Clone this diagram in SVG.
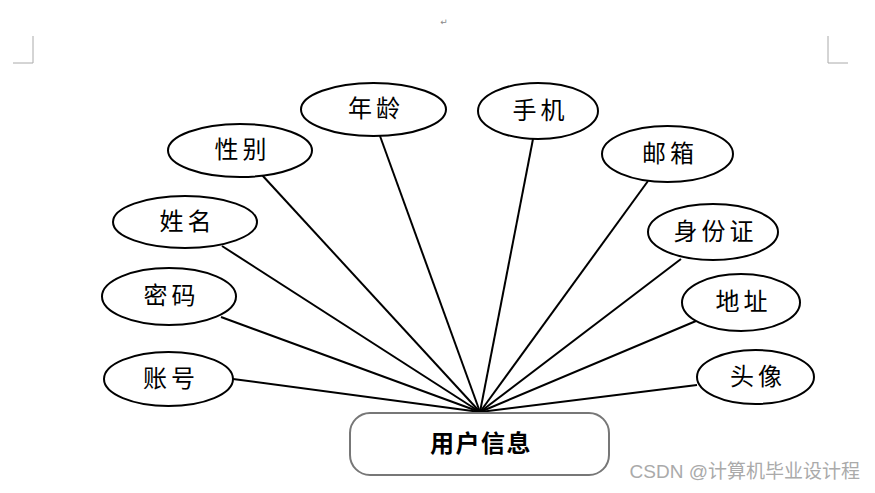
<svg xmlns="http://www.w3.org/2000/svg" width="875" height="493" viewBox="0 0 875 493">
<style>
.e{fill:#fff;stroke:#000;stroke-width:2}
.t{font-family:"Noto Sans CJK SC","Noto Sans",sans-serif;font-size:24px;fill:#000;text-anchor:middle;dominant-baseline:central;letter-spacing:4px}
.c line{stroke:#000;stroke-width:2}
.m{stroke:#aaa;stroke-width:1;fill:none}
</style>
<rect width="875" height="493" fill="#fff"/>
<path class="m" d="M33 36V63H13M828 36V63H848"/>
<text x="444" y="22" font-family="DejaVu Sans,sans-serif" font-size="9" fill="#888" text-anchor="middle" dominant-baseline="central">↵</text>
<g class="c" id="connectors">
<line x1="233" y1="379" x2="480" y2="412"/>
<line x1="221" y1="317" x2="480" y2="412"/>
<line x1="222" y1="246" x2="480" y2="412"/>
<line x1="262" y1="175" x2="480" y2="412"/>
<line x1="380" y1="136" x2="480" y2="412"/>
<line x1="533" y1="139" x2="480" y2="412"/>
<line x1="648" y1="181" x2="480" y2="412"/>
<line x1="681" y1="259" x2="480" y2="412"/>
<line x1="696" y1="321" x2="480" y2="412"/>
<line x1="697" y1="385" x2="480" y2="412"/>
</g>
<g id="n1"><ellipse class="e" cx="168.5" cy="379" rx="64.5" ry="27"/><text class="t" x="171" y="376">账号</text></g>
<g id="n2"><ellipse class="e" cx="169" cy="296.5" rx="67" ry="28.5"/><text class="t" x="171.5" y="293">密码</text></g>
<g id="n3"><ellipse class="e" cx="185" cy="222" rx="72" ry="26"/><text class="t" x="187.5" y="219">姓名</text></g>
<g id="n4"><ellipse class="e" cx="240" cy="150.5" rx="72" ry="26.5"/><text class="t" x="242.5" y="147">性别</text></g>
<g id="n5"><ellipse class="e" cx="373.5" cy="109.5" rx="72.5" ry="26.5"/><text class="t" x="376" y="106">年龄</text></g>
<g id="n6"><ellipse class="e" cx="538" cy="111" rx="60" ry="28"/><text class="t" x="540.5" y="108">手机</text></g>
<g id="n7"><ellipse class="e" cx="667.5" cy="154" rx="65.5" ry="28"/><text class="t" x="670" y="151">邮箱</text></g>
<g id="n8"><ellipse class="e" cx="713" cy="232" rx="65" ry="28"/><text class="t" x="715.5" y="229">身份证</text></g>
<g id="n9"><ellipse class="e" cx="741" cy="302.5" rx="59" ry="28.5"/><text class="t" x="743.5" y="299">地址</text></g>
<g id="n10"><ellipse class="e" cx="755.5" cy="377" rx="58.5" ry="27"/><text class="t" x="758" y="374">头像</text></g>
<g id="center"><rect x="350" y="413" width="259" height="62" rx="20" fill="#fff" stroke="#777" stroke-width="2"/><text class="t" x="481" y="441" font-weight="bold" style="letter-spacing:1.5px">用户信息</text></g>
<text x="860" y="471" font-family="Liberation Sans,&quot;Noto Sans CJK SC&quot;,sans-serif" font-size="19" fill="#aaa" text-anchor="end" dominant-baseline="central">CSDN @计算机毕业设计程</text>
</svg>
